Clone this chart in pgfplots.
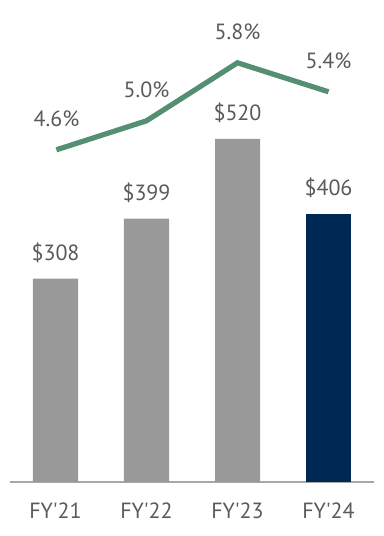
\documentclass[border=0pt]{standalone}
\usepackage{pgfplots}
\pgfplotsset{compat=1.18}
\usepackage{fontspec}
\setmainfont{PT Sans}
\definecolor{barg}{HTML}{999999}
\definecolor{navy}{HTML}{002855}
\definecolor{lgreen}{HTML}{558F72}
\definecolor{txt}{HTML}{5A5A5A}
\definecolor{axg}{HTML}{A8A8A8}
\newcommand{\lblfont}{\fontsize{16.5}{19}\selectfont}
\begin{document}
\begin{tikzpicture}
\path[use as bounding box] (-7.5pt,-40.5pt) rectangle (280.5pt,361.5pt);
\begin{axis}[
  at={(0,0)}, anchor=south west,
  width=273pt, height=346.5pt, scale only axis,
  xmin=-0.5, xmax=3.5, ymin=0, ymax=700,
  axis x line=bottom, axis y line=none,
  x axis line style={axg, line width=1.5pt, -},
  xtick={0,1,2,3},
  xticklabels={FY\textquotesingle21,FY\textquotesingle22,FY\textquotesingle23,FY\textquotesingle24},
  major tick length=0pt,
  xticklabel style={font=\lblfont, text=txt, yshift=-12pt},
  ytick=\empty,
  clip=false,
  /pgf/number format/assume math mode=true,
  every node near coord/.append style={anchor=center, yshift=19.5pt, font=\lblfont, text=txt},
]
\addplot[ybar, bar shift=0pt, bar width=33.75pt, fill=barg, draw=none,
  nodes near coords={\$\pgfmathprintnumber[assume math mode=true]{\pgfplotspointmeta}}]
  coordinates {(0,308) (1,399) (2,520)};
\addplot[ybar, bar shift=0pt, bar width=33.75pt, fill=navy, draw=none,
  nodes near coords={\$\pgfmathprintnumber[assume math mode=true]{\pgfplotspointmeta}}]
  coordinates {(3,406)};
\end{axis}
\begin{axis}[
  at={(0,0)}, anchor=south west,
  width=273pt, height=346.5pt, scale only axis,
  xmin=-0.5, xmax=3.5, ymin=0.02, ymax=6.39,
  axis lines=none,
  clip=false,
  /pgf/number format/assume math mode=true,
  every node near coord/.append style={anchor=center, yshift=23pt, font=\lblfont, text=txt},
]
\addplot[lgreen, line width=3.9pt, mark=none,
  nodes near coords={\pgfmathprintnumber[fixed, fixed zerofill, precision=1, assume math mode=true]{\pgfplotspointmeta}\%}]
  coordinates {(0.01,4.6) (1,5.0) (2,5.8) (3,5.4)};
\end{axis}
\end{tikzpicture}
\end{document}
